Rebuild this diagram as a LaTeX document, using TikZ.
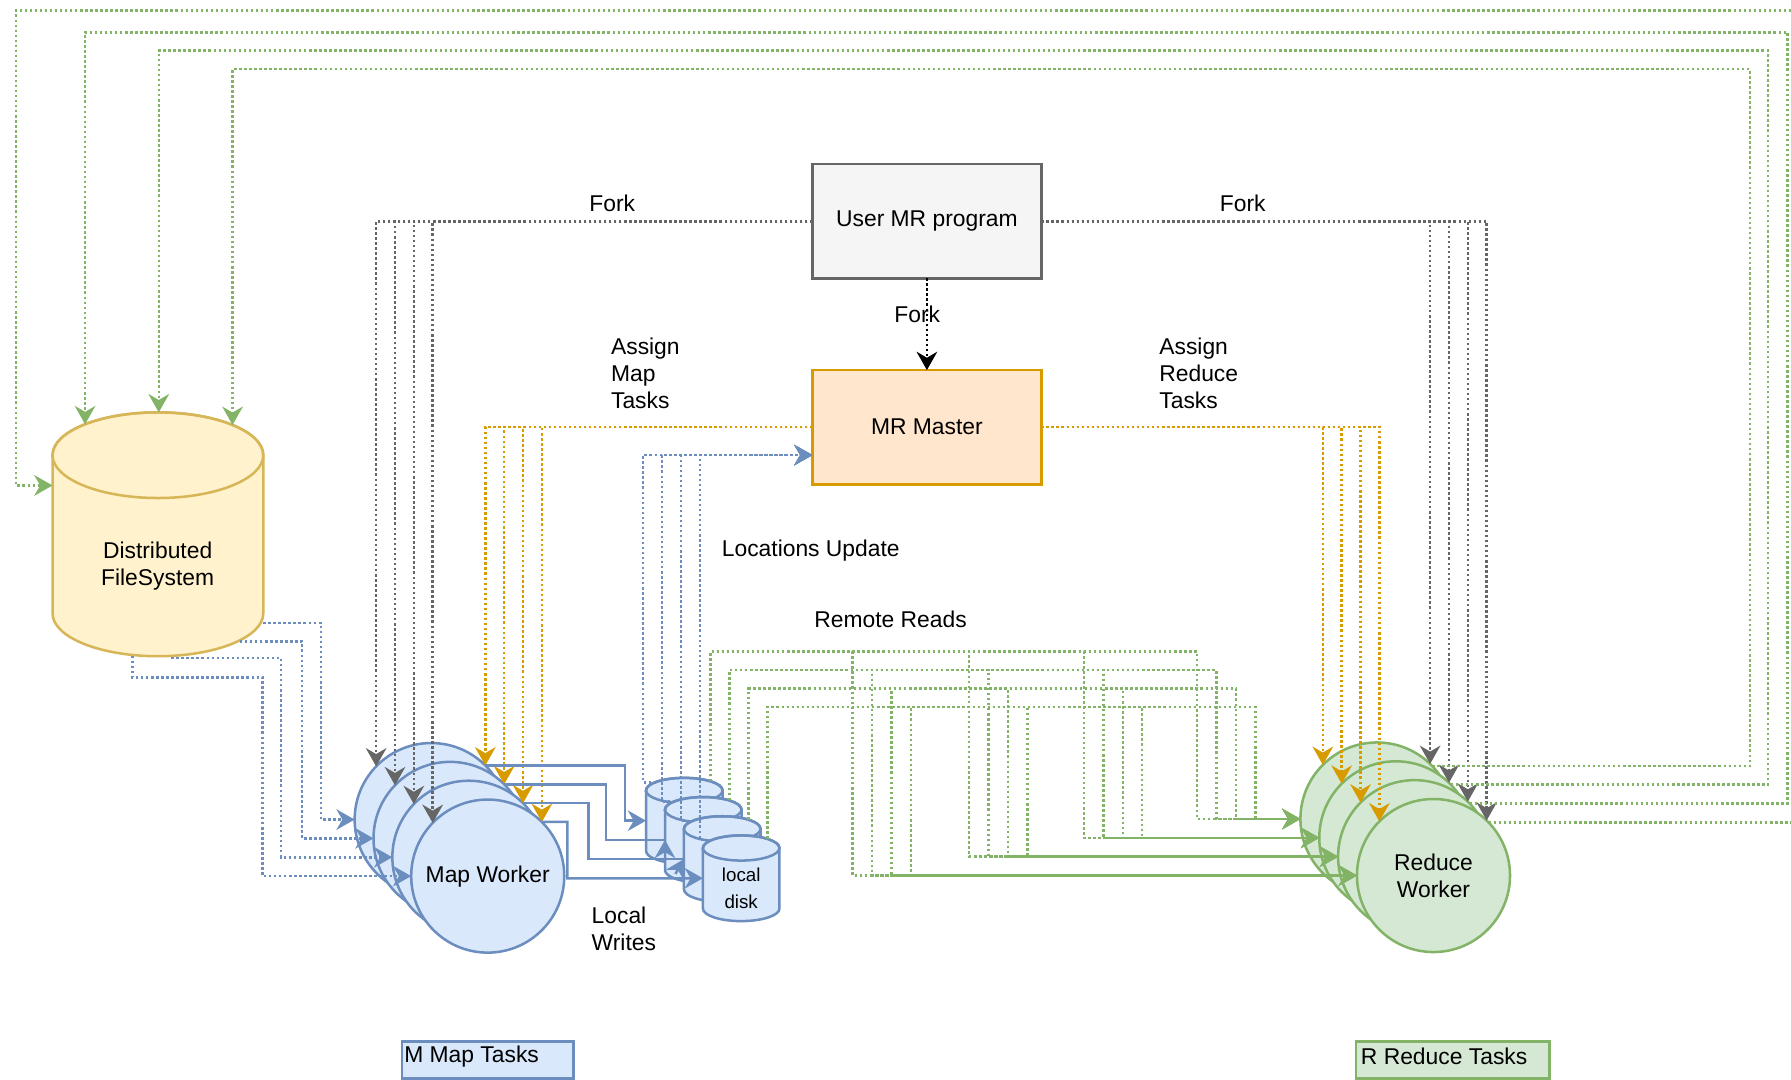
\documentclass[tikz,border=0pt]{standalone}
\usepackage{fontspec}
\setmainfont{Liberation Sans}
\usetikzlibrary{arrows.meta,calc}

\definecolor{mapfill}{HTML}{DAE8FC}
\definecolor{mapdraw}{HTML}{6C8EBF}
\definecolor{redfill}{HTML}{D5E8D4}
\definecolor{reddraw}{HTML}{82B366}
\definecolor{dfsfill}{HTML}{FFF2CC}
\definecolor{dfsdraw}{HTML}{D6B656}
\definecolor{mstfill}{HTML}{FFE6CC}
\definecolor{mstdraw}{HTML}{D79B00}
\definecolor{usrfill}{HTML}{F5F5F5}
\definecolor{usrdraw}{HTML}{666666}
\definecolor{forkgray}{HTML}{666666}

% cylinder: #1 name, #2 left, #3 top, #4 width, #5 height, #6 cap half-height, #7 fill, #8 stroke
\newcommand\drawcan[8]{%
  \pgfmathsetmacro\canrx{#4/4}%
  \pgfmathsetmacro\canry{#6/2}%
  \filldraw[fill=#7, draw=#8, shapeline] (#2,#3+#6) -- (#2,#3+#5-#6)
     arc[start angle=180, end angle=360, x radius=\canrx bp, y radius=\canry bp]
     -- (#2+#4,#3+#6)
     arc[start angle=0, end angle=180, x radius=\canrx bp, y radius=\canry bp] -- cycle;
  \draw[draw=#8, shapeline] (#2+#4/2,#3+#6) ellipse[x radius=\canrx bp, y radius=\canry bp];
  \node[minimum width=#4*0.5bp, minimum height=#5*0.5bp] (#1) at (#2+#4/2,#3+#5/2) {};
}

\tikzset{
  shapeline/.style={line width=1.1bp},
  procbox/.style={draw, shapeline, minimum width=100.2bp, minimum height=50bp},
  worker/.style={circle, draw, shapeline, minimum size=67bp},
  legendbox/.style={draw, shapeline, minimum height=16bp},
  disktext/.style={align=center, font=\fontsize{8.2bp}{11.7bp}\selectfont},
  headed/.style={-{Stealth[length=8bp,width=9bp,inset=2.6bp]}},
  dotconn/.style={line width=1.1bp, dash pattern=on 1.1bp off 1.1bp},
  graylink/.style={dotconn, draw=forkgray, headed},
  blacklink/.style={dotconn, draw=black, headed},
  orangelink/.style={dotconn, draw=mstdraw, headed},
  bluelink/.style={dotconn, draw=mapdraw, headed},
  greenlink/.style={dotconn, draw=reddraw, headed},
  bluesolid/.style={draw=mapdraw, line width=1.1bp},
}

\begin{document}
\begin{tikzpicture}[x=0.5bp, y=-0.5bp,
  every node/.style={inner sep=0pt, outer sep=0pt, font=\fontsize{10bp}{11.8bp}\selectfont}]

\useasboundingbox (0,0) rectangle (1568,945);
\fill[white] (0,0) rectangle (1568,945);
\clip (0,0) rectangle (1568,945);

% ---- storage and control ----
\drawcan{dfs}{46}{361}{184.5}{213.5}{37.5}{dfsfill}{dfsdraw}
\node[align=center] (dfstxt) at (138,496) {Distributed\\FileSystem};

\node[procbox, fill=usrfill, draw=usrdraw] (user) at (811.5,193.7) {User MR program};
\node[procbox, fill=mstfill, draw=mstdraw] (master) at (811.5,374) {MR Master};

% ---- map workers (back to front) ----
\foreach \k/\cx/\cy in {1/377.5/717.5, 2/394/734, 3/410.5/750.5}
  \node[worker, fill=mapfill, draw=mapdraw] (mw\k) at (\cx,\cy) {};
\node[worker, fill=mapfill, draw=mapdraw] (mw4) at (427,767) {Map Worker};

% ---- local disks (back to front) ----
\foreach \k in {1,...,4} {
  \pgfmathsetmacro\dkx{565.6+16.6*(\k-1)}
  \pgfmathsetmacro\dky{681+16.8*(\k-1)}
  \drawcan{dk\k}{\dkx}{\dky}{67}{75}{11}{mapfill}{mapdraw}
  \node[disktext] (dklabel\k) at (\dkx+33.5,\dky+46) {local\\disk};
}

% ---- reduce workers (back to front) ----
\foreach \k/\cx/\cy in {1/1205.5/717, 2/1222/733.5, 3/1238.5/750}
  \node[worker, fill=redfill, draw=reddraw] (rw\k) at (\cx,\cy) {};
\node[worker, fill=redfill, draw=reddraw, align=center] (rw4) at (1255,766.5) {Reduce\\Worker};

% ---- legend boxes ----
\node[legendbox, fill=mapfill, draw=mapdraw, minimum width=75bp] (maptasks) at (427,928) {};
\node[anchor=west] (maptaskstxt) at (354,925) {M Map Tasks};
\node[legendbox, fill=redfill, draw=reddraw, minimum width=84.8bp] (redtasks) at (1271.8,928) {};
\node[anchor=west] (redtaskstxt) at (1191.5,925) {R Reduce Tasks};

% ---- edge labels ----
\node (forkleft) at (536,178) {Fork};
\node (forkright) at (1088,178) {Fork};
\node (forkmid) at (803,275) {Fork};
\node[anchor=west, align=left] (assignmap) at (535,327) {Assign\\Map\\Tasks};
\node[anchor=west, align=left] (assignred) at (1015,327) {Assign\\Reduce\\Tasks};
\node[anchor=west] (locupd) at (632,482) {Locations Update};
\node[anchor=west] (remreads) at (713,542) {Remote Reads};
\node[anchor=west, align=left] (locwrites) at (518,813.5) {Local\\Writes};

% ---- attachment points on the file system ----
\coordinate (dfsA) at (230.5,545.5);
\coordinate (dfsB) at (210,561.5);
\coordinate (dfsC) at (150,576);
\coordinate (dfsD) at (116,574);
\coordinate (dfsT1) at (203.6,372);
\coordinate (dfsT2) at (139,361);
\coordinate (dfsT3) at (74.5,371.4);
\coordinate (dfsT4) at (46,425);

% ---- fork ----
\draw[blacklink] (user.south) -- (user.south |- master.north);
\foreach \k in {1,...,4} {
  \draw[graylink] (user.west) -| (mw\k.136);
  \draw[graylink] (user.east) -| (rw\k.46);
}

% ---- task assignment ----
\foreach \k in {1,...,4} {
  \draw[orangelink] (master.west) -| (mw\k.45);
  \draw[orangelink] (master.east) -| (rw\k.135);
}

% ---- input splits read from the file system ----
\draw[bluelink] (dfsA) -- ++(50.5,0) |- (mw1.west);
\draw[bluelink] (dfsB) -- ++(54.5,0) |- (mw2.west);
\draw[bluelink] (dfsC) -- ++(96,0) |- (mw3.west);
\draw[bluelink] (dfsD) -- ++(0,19) -- ++(114,0) |- (mw4.west);

% ---- local writes ----
\draw[bluesolid, headed] (mw1.45) -| (547,718.5) -- (dk1.west);
\draw[bluesolid] (mw2.45) -| (530.6,735.3) -- (dk2.west);
\draw[bluesolid, headed] ($(dk2.west)+(0,15)$) -- (dk2.west);
\draw[bluesolid] (mw3.45) -| (515,752.1) -- (dk3.west);
\draw[bluesolid, headed] ($(dk3.west)+(-7.5,13)$) -- (dk3.west);
\draw[bluesolid, headed] (mw4.45) -| (496.7,768.9) -- (dk4.west);

% ---- location updates ----
\foreach \k in {1,...,4}
  \draw[bluelink] ($(dk\k.north west)+(9,4)$) -- ++(-11.5,0) |- ($(master.west)+(0,24.4)$);

% ---- remote reads ----
\foreach \i in {1,...,4} {
  \foreach \j/\bx in {1/1048,2/949,3/848.5,4/746.5} {
    \pgfmathsetmacro\colx{\bx+17*(\i-1)}
    \pgfmathsetmacro\rowy{570.5+16.2*(\i-1)}
    \draw[greenlink] ($(dk\i.north west)+(56.5,3)$) |- (\colx,\rowy) |- (rw\j.west);
  }
}

% ---- output written back to the file system ----
\draw[greenlink] (rw1.44) -| (1532,60.4) -| (dfsT1);
\draw[greenlink] (rw2.44) -| (1548,44.4) -| (dfsT2);
\draw[greenlink] (rw3.44) -| (1565,28.3) -| (dfsT3);
\draw[greenlink] (rw4.44) -| (1571,9.3) -| (14,425) -- (dfsT4);

\end{tikzpicture}
\end{document}
